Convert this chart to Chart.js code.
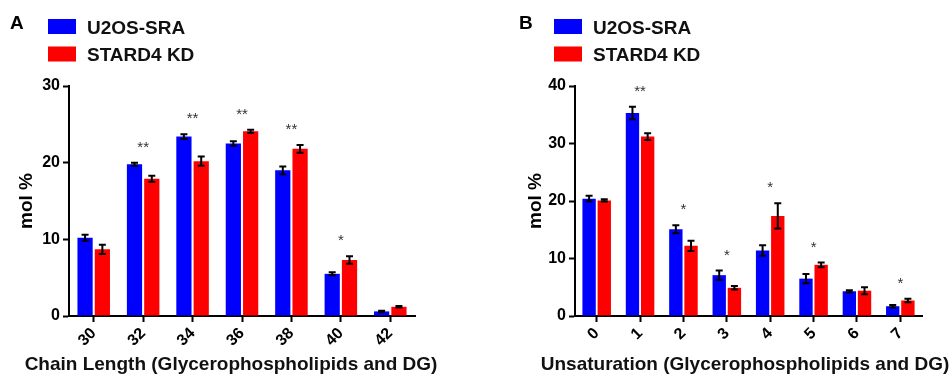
<!DOCTYPE html>
<html>
<head>
<meta charset="utf-8">
<script src="https://cdn.jsdelivr.net/npm/chart.js@4.4.1/dist/chart.umd.min.js"></script>
<style>
body { margin: 0; background: #fff; }
.wrap { display: flex; width: 950px; height: 378px; }
canvas { display: block; }
</style>
</head>
<body>
<div class="wrap">
  <canvas id="chartA" width="475" height="378"></canvas>
  <canvas id="chartB" width="475" height="378"></canvas>
</div>
<script>
const seriesNames = ['U2OS-SRA', 'STARD4 KD'];
const seriesColors = ['#0000ff', '#ff0000'];

// Panel A - chain length
const chainLabels = ['30', '32', '34', '36', '38', '40', '42'];
const chainCtrl = [10.2, 19.8, 23.4, 22.5, 19.0, 5.5, 0.6];
const chainCtrlErr = [0.4, 0.2, 0.3, 0.3, 0.5, 0.2, 0.1];
const chainKD = [8.7, 17.9, 20.2, 24.1, 21.8, 7.3, 1.2];
const chainKDErr = [0.6, 0.4, 0.6, 0.2, 0.5, 0.5, 0.1];
const chainStars = ['', '**', '**', '**', '**', '*', ''];

// Panel B - unsaturation
const unsatLabels = ['0', '1', '2', '3', '4', '5', '6', '7'];
const unsatCtrl = [20.4, 35.3, 15.1, 7.1, 11.4, 6.5, 4.3, 1.7];
const unsatCtrlErr = [0.5, 1.1, 0.7, 0.8, 0.9, 0.8, 0.2, 0.2];
const unsatKD = [20.1, 31.2, 12.2, 4.9, 17.4, 8.9, 4.4, 2.7];
const unsatKDErr = [0.2, 0.6, 0.9, 0.3, 2.2, 0.4, 0.6, 0.3];
const unsatStars = ['', '**', '*', '*', '*', '*', '', '*'];

const FONT = '"Liberation Sans", Arial, Helvetica, sans-serif';
Chart.defaults.font.family = FONT;
Chart.defaults.color = '#000';

//error bars + significance stars
const errorBars = {
    id: 'errorBars',
    afterDatasetsDraw(chart, args, opts) {
        const ctx = chart.ctx;
        const x = chart.scales.x, y = chart.scales.y;
        ctx.save();
        ctx.strokeStyle = '#000';
        ctx.lineWidth = 2;
        chart.data.datasets.forEach((ds, i) => {
            chart.getDatasetMeta(i).data.forEach((bar, j) => {
                const top = y.getPixelForValue(ds.data[j] + ds.errors[j]);
                const bot = y.getPixelForValue(ds.data[j] - ds.errors[j]);
                ctx.beginPath();
                ctx.moveTo(bar.x, top); ctx.lineTo(bar.x, bot);
                ctx.moveTo(bar.x - 3.5, top); ctx.lineTo(bar.x + 3.5, top);
                ctx.moveTo(bar.x - 3.5, bot); ctx.lineTo(bar.x + 3.5, bot);
                ctx.stroke();
            });
        });
        ctx.fillStyle = '#333';
        ctx.font = '15px ' + FONT;
        ctx.textAlign = 'center';
        ctx.textBaseline = 'alphabetic';
        opts.stars.forEach((s, j) => {
            if (!s) return;
            const hi = Math.max(...chart.data.datasets.map(ds => ds.data[j] + ds.errors[j]));
            ctx.fillText(s, x.getPixelForValue(j), y.getPixelForValue(hi) - 11);
        });
        ctx.restore();
    }
};

//panel letter, legend block and x title (title is wider than the plot, Chart.js would squeeze it)
const panelLegend = {
    id: 'panelLegend',
    afterDraw(chart, args, opts) {
        const ctx = chart.ctx;
        ctx.save();
        ctx.font = 'bold 19px ' + FONT;
        ctx.textAlign = 'left';
        ctx.textBaseline = 'alphabetic';
        ctx.fillStyle = '#000';
        ctx.fillText(opts.letter, opts.letterX, 29);
        chart.data.datasets.forEach((ds, i) => {
            const top = 19 + i * 27.5;
            ctx.fillStyle = ds.backgroundColor;
            ctx.fillRect(opts.boxX, top, 28, 15);
            ctx.fillStyle = '#111';
            ctx.fillText(ds.label, opts.boxX + 39, top + 14.5);
        });
        ctx.fillStyle = '#111';
        ctx.textAlign = 'center';
        ctx.textBaseline = 'middle';
        ctx.fillText(opts.xTitle, opts.titleX, 365);
        ctx.restore();
    }
};

function makeChart(id, labels, ctrl, ctrlErr, kd, kdErr, stars, yMax, xTitle, lay) {
    const config = {
        type: 'bar',
        data: {
            labels: labels,
            datasets: [
                { label: seriesNames[0], data: ctrl, errors: ctrlErr, backgroundColor: seriesColors[0], borderWidth: 0 },
                { label: seriesNames[1], data: kd, errors: kdErr, backgroundColor: seriesColors[1], borderWidth: 0 }
            ]
        },
        options: {
            responsive: false,
            animation: false,
            barPercentage: 0.88,
            categoryPercentage: 0.7,
            layout: { padding: { left: lay.padLeft, top: 86, right: lay.padRight, bottom: 0 } },
            scales: {
                x: {
                    grid: { drawOnChartArea: false, offset: false, tickLength: 6, tickColor: '#000', tickWidth: 2 },
                    border: { color: '#000', width: 2 },
                    ticks: { font: { size: 16, weight: 'bold' }, minRotation: 45, maxRotation: 45, autoSkip: false, padding: 2 },
                    afterFit: s => { s.height = 62; }
                },
                y: {
                    min: 0,
                    max: yMax,
                    ticks: { stepSize: 10, font: { size: 16, weight: 'bold' }, padding: 3 },
                    grid: { drawOnChartArea: false, tickLength: 6, tickColor: '#000', tickWidth: 2 },
                    border: { color: '#000', width: 2 },
                    title: { display: true, text: 'mol %', font: { size: 19, weight: 'bold' }, padding: { top: 3, bottom: 0 } },
                    afterFit: s => { s.width = lay.yWidth; }
                }
            },
            plugins: {
                legend: { display: false },
                tooltip: { enabled: false },
                errorBars: { stars: stars },
                panelLegend: { letter: lay.letter, letterX: lay.letterX, boxX: lay.boxX, xTitle: xTitle, titleX: lay.titleX }
            }
        },
        plugins: [errorBars, panelLegend]
    };
    return new Chart(document.getElementById(id), config);
}

makeChart('chartA', chainLabels, chainCtrl, chainCtrlErr, chainKD, chainKDErr, chainStars, 30,
    'Chain Length (Glycerophospholipids and DG)',
    { padLeft: 12, padRight: 60, yWidth: 57, letter: 'A', letterX: 10, boxX: 48, titleX: 231 });

makeChart('chartB', unsatLabels, unsatCtrl, unsatCtrlErr, unsatKD, unsatKDErr, unsatStars, 40,
    'Unsaturation (Glycerophospholipids and DG)',
    { padLeft: 46, padRight: 28, yWidth: 54, letter: 'B', letterX: 44, boxX: 79, titleX: 270 });
</script>
</body>
</html>
